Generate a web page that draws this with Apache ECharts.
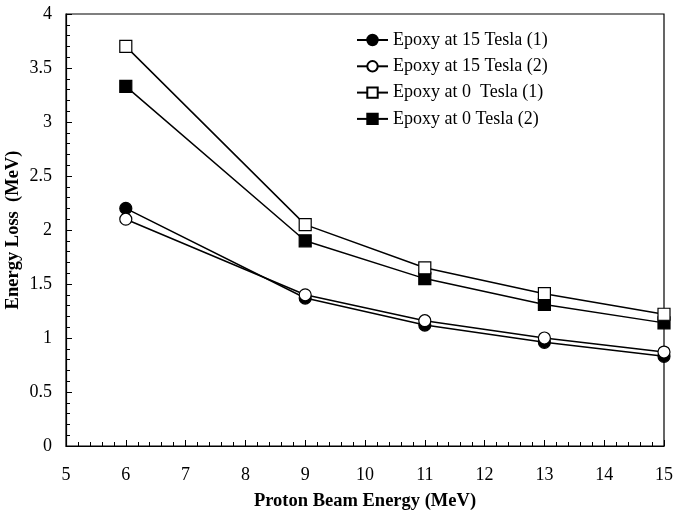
<!DOCTYPE html>
<html>
<head>
<meta charset="utf-8">
<script src="https://cdn.jsdelivr.net/npm/echarts@6/dist/echarts.min.js"></script>
<style>
  html, body { margin: 0; padding: 0; background: #fff; }
  #chart { width: 673px; height: 515px; }
</style>
</head>
<body>
<div id="chart"></div>
<script>
// 读图得到的数据
const beamEnergy = [6, 9, 11, 13, 15];
const tesla15a = [2.2, 1.37, 1.12, 0.96, 0.83];
const tesla15b = [2.1, 1.4, 1.16, 1.0, 0.87];
const tesla0a = [3.7, 2.05, 1.65, 1.41, 1.22];
const tesla0b = [3.33, 1.9, 1.55, 1.31, 1.14];
const seriesNames = ['Epoxy at 15 Tesla (1)', 'Epoxy at 15 Tesla (2)', 'Epoxy at 0  Tesla (1)', 'Epoxy at 0 Tesla (2)'];

const font = 'Liberation Serif';

function pairs(ys) {
  return beamEnergy.map((x, i) => [x, ys[i]]);
}

function makeSeries(name, ys, symbol, filled, z) {
  return {
    name: name,
    type: 'line',
    data: pairs(ys),
    symbol: symbol,
    symbolSize: 12,
    z: z,
    lineStyle: { color: '#000', width: 1.5 },
    itemStyle: {
      color: filled ? '#000' : '#fff',
      borderColor: '#000',
      borderWidth: 1.2
    },
    emphasis: { disabled: true }
  };
}

const chart = echarts.init(document.getElementById('chart'));

const option = {
  animation: false,
  textStyle: { fontFamily: font },
  grid: {
    left: 66,
    right: 9,
    top: 14,
    bottom: 69,
    outerBoundsMode: 'none',
    show: true,
    borderColor: '#000',
    borderWidth: 1.2
  },
  legend: {
    left: 356,
    top: 31,
    padding: 0,
    orient: 'vertical',
    itemWidth: 31,
    itemHeight: 13,
    itemGap: 8.3,
    data: seriesNames,
    textStyle: { fontFamily: font, fontSize: 18, color: '#000' }
  },
  xAxis: {
    type: 'value',
    min: 5,
    max: 15,
    interval: 1,
    name: 'Proton Beam Energy (MeV)',
    nameLocation: 'middle',
    nameGap: 46,
    nameMoveOverlap: false,
    nameTextStyle: { fontFamily: font, fontSize: 18.5, fontWeight: 'bold', color: '#000' },
    axisLine: { lineStyle: { color: '#000', width: 1.2 } },
    axisTick: { inside: true, length: 6, lineStyle: { color: '#000' } },
    minorTick: { show: true, splitNumber: 5, length: 4, lineStyle: { color: '#000' } },
    axisLabel: { fontFamily: font, fontSize: 18, color: '#000', margin: 20 },
    splitLine: { show: false }
  },
  yAxis: {
    type: 'value',
    min: 0,
    max: 4,
    interval: 0.5,
    name: 'Energy Loss  (MeV)',
    nameLocation: 'middle',
    nameGap: 43,
    nameMoveOverlap: false,
    nameTextStyle: { fontFamily: font, fontSize: 18.5, fontWeight: 'bold', color: '#000' },
    axisLine: { lineStyle: { color: '#000', width: 1.2 } },
    axisTick: { inside: true, length: 6, lineStyle: { color: '#000' } },
    minorTick: { show: true, splitNumber: 5, length: 4, lineStyle: { color: '#000' } },
    axisLabel: { fontFamily: font, fontSize: 18, color: '#000', margin: 14 },
    splitLine: { show: false }
  },
  series: [
    makeSeries(seriesNames[0], tesla15a, 'circle', true, 2),
    makeSeries(seriesNames[1], tesla15b, 'circle', false, 3),
    makeSeries(seriesNames[3], tesla0b, 'rect', true, 2),
    makeSeries(seriesNames[2], tesla0a, 'rect', false, 3)
  ]
};

chart.setOption(option);
</script>
</body>
</html>
